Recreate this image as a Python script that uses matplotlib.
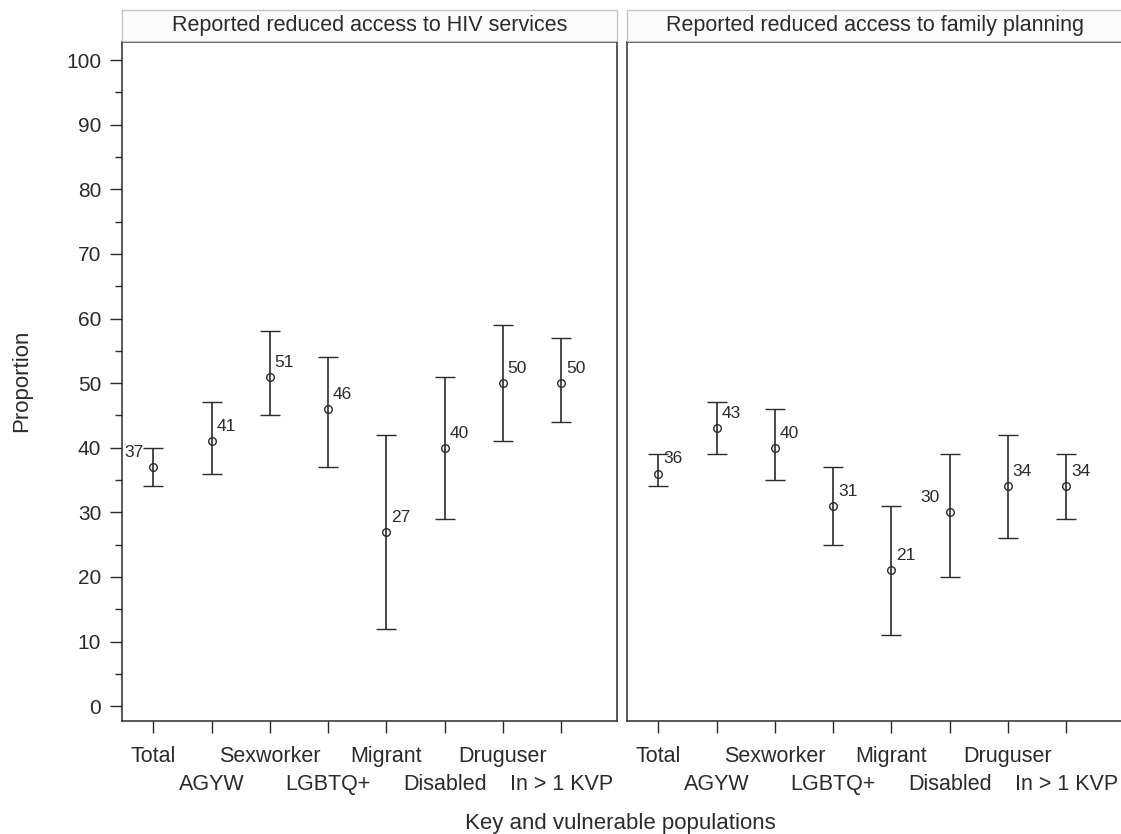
import matplotlib
matplotlib.use('Agg')
from matplotlib import pyplot as plt
from matplotlib.ticker import MultipleLocator

plt.rcParams['font.family'] = ['Liberation Sans', 'DejaVu Sans']

groups = ['Total', 'AGYW', 'Sexworker', 'LGBTQ+', 'Migrant', 'Disabled', 'Druguser', 'In > 1 KVP']
panel_titles = ['Reported reduced access to HIV services', 'Reported reduced access to family planning']

# 点估计和置信区间
hiv_est = [37, 41, 51, 46, 27, 40, 50, 50]
hiv_low = [34, 36, 45, 37, 12, 29, 41, 44]
hiv_high = [40, 47, 58, 54, 42, 51, 59, 57]

fp_est = [36, 43, 40, 31, 21, 30, 34, 34]
fp_low = [34, 39, 35, 25, 11, 20, 26, 29]
fp_high = [39, 47, 46, 37, 31, 39, 42, 39]

# 标签放在左边的点
hiv_left = ['Total']
fp_left = ['Disabled']

W, H = 1121, 834
fig = plt.figure(figsize=(W / 100, H / 100), dpi=100)

ink = '#2b2b2b'
x = list(range(1, len(groups) + 1))

panels = [
    (122, panel_titles[0], hiv_est, hiv_low, hiv_high, hiv_left),
    (627, panel_titles[1], fp_est, fp_low, fp_high, fp_left),
]

for left, title, est, low, high, left_lab in panels:
    ax = fig.add_axes([left / W, (H - 721) / H, 495 / W, 679 / H])
    yerr = [[e - l for e, l in zip(est, low)], [h - e for e, h in zip(est, high)]]
    ax.errorbar(x, est, yerr=yerr, fmt='o', color=ink, mfc='none', mec=ink,
                ms=5.5, mew=1.0, elinewidth=1.2, capsize=7, capthick=1.2)
    for xi, e, g in zip(x, est, groups):
        if g in left_lab:
            ax.annotate(str(e), (xi, e), xytext=(-7, 10.5), textcoords='offset points',
                        ha='right', va='center', fontsize=12.5, color=ink)
        else:
            ax.annotate(str(e), (xi, e), xytext=(3.5, 10.5), textcoords='offset points',
                        ha='left', va='center', fontsize=12.5, color=ink)

    ax.set_xlim(0.46, 8.96)
    ax.set_ylim(-2.3, 102.8)
    # 交错的x轴标签：奇数位置用major，偶数位置用minor
    ax.set_xticks(x[0::2])
    ax.set_xticklabels(groups[0::2])
    ax.set_xticks(x[1::2], minor=True)
    ax.set_xticklabels(groups[1::2], minor=True)
    ax.tick_params(axis='x', which='major', length=8.5, width=1.0, color=ink,
                   labelsize=15.5, labelcolor=ink, pad=9.6)
    ax.tick_params(axis='x', which='minor', length=8.5, width=1.0, color=ink,
                   labelsize=15.5, labelcolor=ink, pad=29.8)
    ax.yaxis.set_major_locator(MultipleLocator(10))
    ax.yaxis.set_minor_locator(MultipleLocator(5))
    ax.tick_params(axis='y', which='major', length=8.5, width=1.0, color=ink,
                   labelsize=15, labelcolor=ink, pad=6.5)
    ax.tick_params(axis='y', which='minor', length=5, width=1.0, color=ink)
    for s in ax.spines.values():
        s.set_color(ink)
        s.set_linewidth(1.1)
    if left > 200:
        ax.tick_params(axis='y', which='both', left=False, labelleft=False)

    # 面板标题框
    fig.patches.append(plt.Rectangle((left / W, (H - 41) / H), 495 / W, 31 / H,
                                     transform=fig.transFigure, facecolor='#fcfcfc',
                                     edgecolor='#c4c4c4', linewidth=1.0))
    fig.text((left + 247.5) / W, (H - 25.5) / H, title, ha='center', va='center',
             fontsize=15.5, color=ink)

fig.text(22 / W, (H - 381) / H, 'Proportion', rotation=90, ha='center', va='center',
         fontsize=16, color=ink)
fig.text(620 / W, (H - 823) / H, 'Key and vulnerable populations', ha='center', va='center',
         fontsize=16, color=ink)

fig.savefig('out.png', dpi=100)
